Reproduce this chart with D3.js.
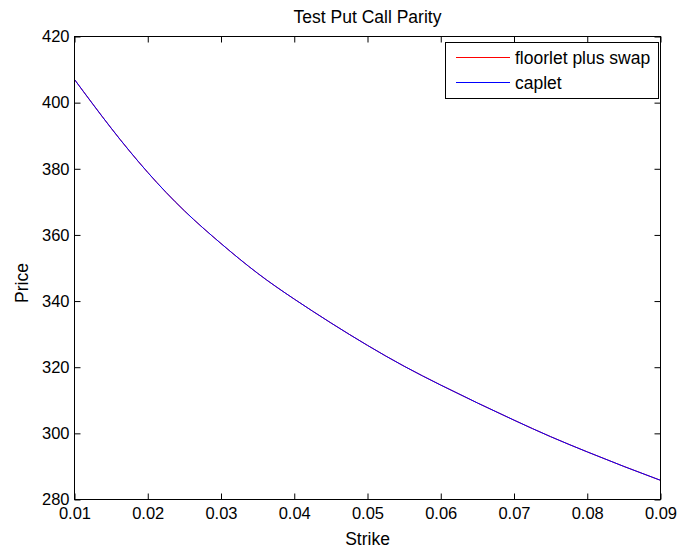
<!DOCTYPE html>
<html><head><meta charset="utf-8">
<script src="https://cdn.jsdelivr.net/npm/d3@7"></script>
<style>body{margin:0;background:#fff}svg{display:block}text{font-family:"Liberation Sans",Arial,Helvetica,sans-serif}</style>
</head><body>
<script>
const strikes = [0.010,0.015,0.020,0.025,0.030,0.035,0.040,0.045,0.050,0.055,0.060,0.065,0.070,0.075,0.080,0.085,0.090];
const floorletPlusSwap = [407.0,392.3,378.9,367.3,357.4,348.4,340.6,333.4,326.6,320.3,314.6,309.2,304.0,299.0,294.4,290.0,285.8];
const caplet = [407.0,392.3,378.9,367.3,357.4,348.4,340.6,333.4,326.6,320.3,314.6,309.2,304.0,299.0,294.4,290.0,285.8];
const xTicks = [0.01,0.02,0.03,0.04,0.05,0.06,0.07,0.08,0.09];
const yTicks = [280,300,320,340,360,380,400,420];
const seriesNames = ["floorlet plus swap","caplet"];
const seriesColors = ["#ff0000","#0000ff"];

const W=683,H=551, L=74.5, R=660.5, T=36.5, B=499.5;
const svg=d3.select("body").append("svg").attr("width",W).attr("height",H);
const x=d3.scaleLinear().domain([0.01,0.09]).range([L,R]);
const y=d3.scaleLinear().domain([280,420]).range([B,T]);
const fs=16.5;

// curves
const line=d3.line().x((d,i)=>x(strikes[i])).y(d=>y(d)).curve(d3.curveNatural);
[floorletPlusSwap,caplet].forEach((s,k)=>{
  svg.append("path").attr("d",line(s)).attr("fill","none").attr("stroke",seriesColors[k]).attr("stroke-width",1);
});

// axes
const tl=6;
const fmt=d=>d3.format(".2f")(d);
svg.append("g").attr("transform",`translate(0,${B})`).call(d3.axisBottom(x).tickValues(xTicks).tickFormat(fmt).tickSizeInner(-tl).tickSizeOuter(0).tickPadding(8))
  .call(g=>{g.select(".domain").remove();g.selectAll("text").attr("font-size",fs).attr("fill","#000").attr("font-family","Liberation Sans, Arial");});
svg.append("g").attr("transform",`translate(0,${T})`).call(d3.axisTop(x).tickValues(xTicks).tickFormat("").tickSizeInner(-tl).tickSizeOuter(0))
  .call(g=>g.select(".domain").remove());
svg.append("g").attr("transform",`translate(${L},0)`).call(d3.axisLeft(y).tickValues(yTicks).tickSizeInner(-tl).tickSizeOuter(0).tickPadding(5))
  .call(g=>{g.select(".domain").remove();g.selectAll("text").attr("font-size",fs).attr("fill","#000").attr("font-family","Liberation Sans, Arial");});
svg.append("g").attr("transform",`translate(${R},0)`).call(d3.axisRight(y).tickValues(yTicks).tickFormat("").tickSizeInner(-tl).tickSizeOuter(0))
  .call(g=>g.select(".domain").remove());
svg.selectAll(".tick line").attr("stroke","#000");
svg.append("rect").attr("x",L).attr("y",T).attr("width",R-L).attr("height",B-T).attr("fill","none").attr("stroke","#000").attr("stroke-width",1);

// labels
svg.append("text").attr("x",(L+R)/2).attr("y",23).attr("text-anchor","middle").attr("font-size",17.5).text("Test Put Call Parity");
svg.append("text").attr("x",(L+R)/2).attr("y",545).attr("text-anchor","middle").attr("font-size",17.5).text("Strike");
svg.append("text").attr("transform",`translate(28,${(T+B)/2+15}) rotate(-90)`).attr("text-anchor","middle").attr("font-size",17.5).text("Price");

// legend
const lg=svg.append("g");
lg.append("rect").attr("x",445.5).attr("y",42.5).attr("width",213).attr("height",56).attr("fill","#fff").attr("stroke","#000");
seriesNames.forEach((n,k)=>{
  const yy=57.5+k*25;
  lg.append("line").attr("x1",456).attr("x2",510).attr("y1",yy).attr("y2",yy).attr("stroke",seriesColors[k]);
  lg.append("text").attr("x",515).attr("y",yy+6).attr("font-size",17.5).text(n);
});
</script>
</body></html>
